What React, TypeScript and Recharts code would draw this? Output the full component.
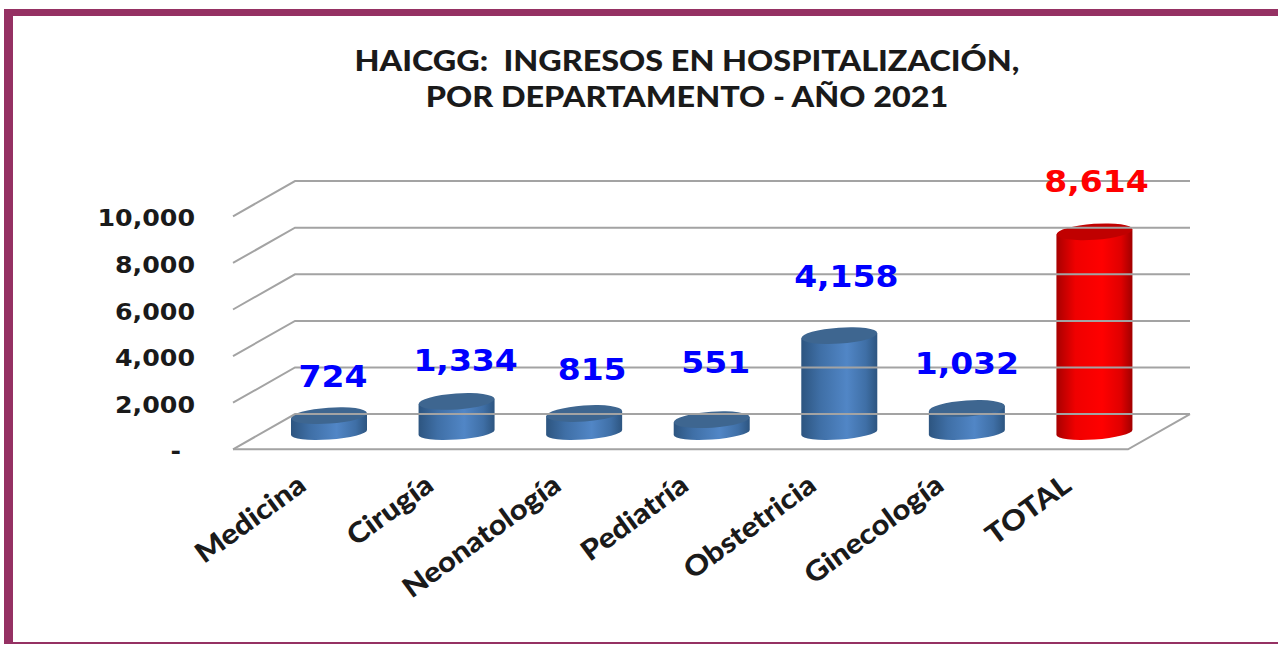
import { Bar, BarChart, LabelList, XAxis, YAxis } from "recharts";

const categorias = ["Medicina", "Cirugía", "Neonatología", "Pediatría", "Obstetricia", "Ginecología", "TOTAL"];
const ingresos = [724, 1334, 815, 551, 4158, 1032, 8614];
const yTicks = [0, 2000, 4000, 6000, 8000, 10000];

// how far each number floats above its cylinder
const labelGap = [40, 41, 45, 58, 60, 45, 51];
const labelShift = [4, 9, 8, 4, 7, 0, 2];

const data = categorias.map((categoria, i) => ({ categoria, ingresos: ingresos[i], i }));

const GRID = "#a3a3a3";
const FRONT_LEFT = 233;
const BACK_LEFT = 295;
const FRONT_RIGHT = 1128;
const BACK_RIGHT = 1190;
const FRONT_DROP = 16.8;
const BACK_RISE = 18.4;

function fmt(v: number): string {
  return v === 0 ? "-" : v.toLocaleString("en-US");
}

// gridline and its label, one per tick
function WallTick(props: any) {
  const { y, payload } = props;
  const fy = y + FRONT_DROP;
  const by = y - BACK_RISE;
  const isZero = payload.value === 0;
  return (
    <g>
      <polyline
        points={`${FRONT_LEFT},${fy} ${BACK_LEFT},${by} ${BACK_RIGHT},${by}`}
        fill="none"
        stroke={GRID}
        strokeWidth={2}
      />
      {isZero && (
        <polyline
          points={`${FRONT_LEFT},${fy} ${FRONT_RIGHT},${fy} ${BACK_RIGHT},${by}`}
          fill="none"
          stroke={GRID}
          strokeWidth={2}
        />
      )}
      <text
        transform={`translate(${isZero ? 181 : 195} ${fy + 10}) scale(1.1 1)`}
        textAnchor="end"
        fontFamily="DejaVu Sans"
        fontWeight={700}
        fontSize={23}
        fill="#1a1a1a"
      >
        {fmt(payload.value)}
      </text>
    </g>
  );
}

function CategoryTick(props: any) {
  const { x, payload } = props;
  return (
    <text
      transform={`translate(${x - 21} 489) rotate(-36) scale(1.11 1)`}
      textAnchor="end"
      fontFamily="Lato"
      fontWeight={900}
      fontSize={28}
      fill="#1a1a1a"
    >
      {payload.value}
    </text>
  );
}

function Cylinder(props: any) {
  const { x, y, width, height, payload } = props;
  const isTotal = payload.categoria === "TOTAL";
  const rx = width / 2;
  const ry = 7;
  const tilt = 2.6;
  const cx = x + rx;
  const side = [
    `M${x},${y + tilt}`,
    `L${x},${y + height + tilt}`,
    `A${rx},${ry} -4 0 0 ${x + width},${y + height - tilt}`,
    `L${x + width},${y - tilt}`,
    "Z",
  ].join(" ");
  return (
    <g>
      <path d={side} fill={isTotal ? "url(#cilRojo)" : "url(#cilAzul)"} />
      <ellipse
        cx={cx}
        cy={y}
        rx={rx}
        ry={8}
        transform={`rotate(-4 ${cx} ${y})`}
        fill={isTotal ? "#c00000" : "#3e6690"}
      />
    </g>
  );
}

function ValueLabel(props: any) {
  const { x, y, width, value, index } = props;
  const isTotal = categorias[index] === "TOTAL";
  const cx = x + width / 2 + labelShift[index];
  const cy = y - labelGap[index] + 11;
  return (
    <text
      transform={`translate(${cx} ${cy}) scale(1.1 1)`}
      textAnchor="middle"
      fontFamily="DejaVu Sans"
      fontWeight={700}
      fontSize={30}
      fill={isTotal ? "#ff0000" : "#0000ff"}
    >
      {value.toLocaleString("en-US")}
    </text>
  );
}

export default function App() {
  return (
    <div style={{ position: "absolute", left: 0, top: 0, width: 1278, height: 646, background: "#fff", overflow: "hidden" }}>
      <div
        style={{
          position: "absolute",
          left: 4,
          top: 9,
          width: 1274,
          height: 635,
          boxSizing: "border-box",
          borderLeft: "9px solid #953163",
          borderTop: "7px solid #953163",
          borderBottom: "2px solid #953163",
        }}
      />
      <div
        style={{
          position: "absolute",
          left: 287,
          top: 42,
          width: 800,
          textAlign: "center",
          fontFamily: "Lato",
          fontWeight: 900,
          fontSize: 28,
          lineHeight: "36px",
          color: "#1a1a1a",
          whiteSpace: "pre",
          transform: "scaleX(1.155)",
        }}
      >
        {"HAICGG:  INGRESOS EN HOSPITALIZACIÓN,\nPOR DEPARTAMENTO - AÑO 2021"}
      </div>
      <div style={{ position: "absolute", left: 0, top: 0 }}>
        <BarChart
          width={1278}
          height={646}
          data={data}
          margin={{ top: 199.5, right: 120, bottom: 113.5, left: 205 }}
          barCategoryGap={0}
        >
          <defs>
            <linearGradient id="cilAzul" x1="0" y1="0" x2="1" y2="0">
              <stop offset="0" stopColor="#2d5580" />
              <stop offset="0.25" stopColor="#3f6fa6" />
              <stop offset="0.6" stopColor="#5186c6" />
              <stop offset="0.85" stopColor="#3f6fa6" />
              <stop offset="1" stopColor="#2d5580" />
            </linearGradient>
            <linearGradient id="cilRojo" x1="0" y1="0" x2="1" y2="0">
              <stop offset="0" stopColor="#a80000" />
              <stop offset="0.25" stopColor="#f00000" />
              <stop offset="0.6" stopColor="#ff0000" />
              <stop offset="0.85" stopColor="#e00000" />
              <stop offset="1" stopColor="#a00000" />
            </linearGradient>
          </defs>
          <YAxis
            width={60}
            domain={[0, 10000]}
            ticks={yTicks}
            interval={0}
            axisLine={false}
            tickLine={false}
            tick={<WallTick />}
          />
          <XAxis
            dataKey="categoria"
            height={100}
            interval={0}
            axisLine={false}
            tickLine={false}
            tick={<CategoryTick />}
          />
          <Bar dataKey="ingresos" barSize={76} isAnimationActive={false} shape={<Cylinder />}>
            <LabelList dataKey="ingresos" content={<ValueLabel />} />
          </Bar>
        </BarChart>
      </div>
    </div>
  );
}
